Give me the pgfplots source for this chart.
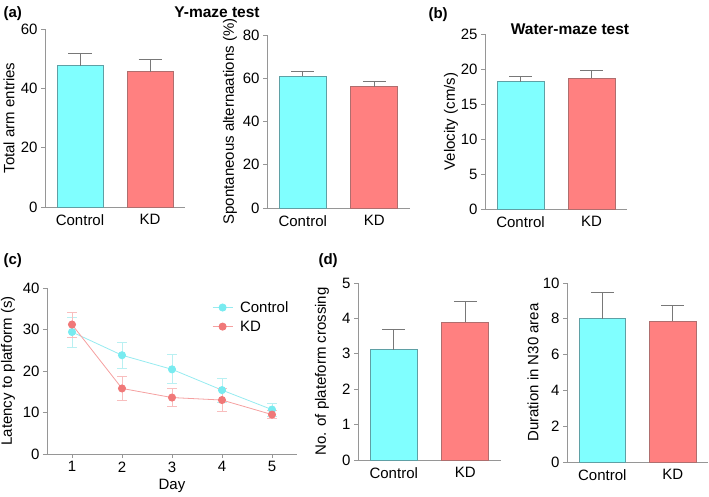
\documentclass[border=0pt]{standalone}
\usepackage{pgfplots}
\pgfplotsset{compat=1.18}
\usepackage{fontspec}
\setmainfont{Liberation Sans}
\definecolor{cbar}{RGB}{128,255,255}
\definecolor{cedge}{RGB}{95,160,165}
\definecolor{rbar}{RGB}{255,128,128}
\definecolor{redge}{RGB}{175,110,110}
\definecolor{axgray}{RGB}{150,150,150}
\definecolor{errgray}{RGB}{120,120,120}
\definecolor{cline}{RGB}{150,235,240}
\definecolor{rline}{RGB}{245,160,160}
\definecolor{cmark}{RGB}{120,235,240}
\definecolor{rmark}{RGB}{240,120,120}
\definecolor{cerr}{RGB}{185,240,242}
\definecolor{rerr}{RGB}{248,190,190}
\pgfplotsset{
  base/.style={scale only axis, axis x line*=bottom, axis y line*=left,
    axis line style={draw=axgray, line width=0.8pt, -},
    tick align=outside, major tick length=4pt,
    ytick style={draw=axgray, line width=0.8pt},
    tick label style={font=\fontsize{15}{17}\selectfont},
    label style={font=\fontsize{15}{17}\selectfont},
    /pgf/number format/assume math mode=true, ymin=0, clip=false},
  barax/.style={base, xmin=-0.5, xmax=1.5, xtick={0,1}, xticklabels={Control,KD},
    xtick style={draw=none},
    ylabel style={at={(axis description cs:#1,0.5)}, anchor=center}},
  berr/.style={/pgfplots/error bars/y dir=plus, /pgfplots/error bars/y explicit,
    /pgfplots/error bars/error bar style={draw=errgray, line width=0.8pt},
    /pgfplots/error bars/error mark options={rotate=90, draw=errgray, line width=0.8pt, mark size=11.5pt}},
  cb/.style={ybar, bar width=0.66, fill=cbar, draw=cedge, line width=0.8pt, berr},
  rb/.style={ybar, bar width=0.66, fill=rbar, draw=redge, line width=0.8pt, berr},
}
\begin{document}
\begin{tikzpicture}
\useasboundingbox (0,0) rectangle (709pt,496pt);
\node[font=\bfseries\fontsize{15}{17}\selectfont, anchor=west] at (0pt,482pt) {(a)};
\node[font=\bfseries\fontsize{15}{17}\selectfont, anchor=west] at (425pt,481pt) {(b)};
\node[font=\bfseries\fontsize{15}{17}\selectfont, anchor=west] at (0pt,235pt) {(c)};
\node[font=\bfseries\fontsize{15}{17}\selectfont, anchor=west] at (315pt,235pt) {(d)};
\node[font=\bfseries\fontsize{15.5}{17}\selectfont] at (217pt,484pt) {Y-maze test};
\node[font=\bfseries\fontsize{15.5}{17}\selectfont] at (570pt,467pt) {Water-maze test};

% (a) left
\begin{axis}[barax=-0.257, at={(45pt,289pt)}, anchor=south west, width=140pt, height=178pt,
  ymax=60, ytick={0,20,40,60}, ylabel={Total arm entries}]
\addplot[cb] coordinates {(0,47.6) +- (0,4.3)};
\addplot[rb] coordinates {(1,45.6) +- (0,4.2)};
\end{axis}
% (a) right
\begin{axis}[barax=-0.259, at={(267pt,288pt)}, anchor=south west, width=143pt, height=173pt,
  ymax=80, ytick={0,20,40,60,80}, ylabel={Spontaneous alternaations (\%)}]
\addplot[cb] coordinates {(0,60.9) +- (0,2.2)};
\addplot[rb] coordinates {(1,56.0) +- (0,2.6)};
\end{axis}
% (b)
\begin{axis}[barax=-0.239, at={(485pt,287pt)}, anchor=south west, width=142pt, height=175pt,
  ymax=25, ytick={0,5,10,15,20,25}, ylabel={Velocity (cm/s)}]
\addplot[cb] coordinates {(0,18.2) +- (0,0.8)};
\addplot[rb] coordinates {(1,18.65) +- (0,1.15)};
\end{axis}
% (c)
\begin{axis}[base, at={(47pt,42pt)}, anchor=south west, width=250pt, height=166pt,
  xmin=0.5, xmax=5.5, ymax=40, xtick={1,2,3,4,5}, ytick={0,10,20,30,40},
  xtick style={draw=axgray, line width=0.8pt},
  xlabel={Day}, ylabel={Latency to platform (s)},
  ylabel style={at={(axis description cs:-0.156,0.5)}, anchor=center},
  legend style={draw=none, fill=none, at={(axis cs:3.74,37.8)}, anchor=north west,
    font=\fontsize{15}{17}\selectfont, row sep=3pt, column sep=5pt},
  legend image code/.code={\draw[#1] (0pt,0pt) -- (20pt,0pt);
    \draw[#1, only marks] plot coordinates {(10pt,0pt)};},
  legend cell align=left]
\addplot[color=cline, line width=0.8pt, mark=*, mark size=3.6pt, mark options={fill=cmark, draw=cmark},
  error bars/.cd, y dir=both, y explicit,
  error bar style={draw=cerr, line width=0.8pt}, error mark options={rotate=90, draw=cerr, line width=0.8pt, mark size=5pt}]
  coordinates {(1,29.4) +- (0,3.6) (2,23.8) +- (0,3.1) (3,20.4) +- (0,3.5) (4,15.4) +- (0,2.85) (5,10.7) +- (0,1.6)};
\addlegendentry{Control}
\addplot[color=rline, line width=0.8pt, mark=*, mark size=3.6pt, mark options={fill=rmark, draw=rmark},
  error bars/.cd, y dir=both, y explicit,
  error bar style={draw=rerr, line width=0.8pt}, error mark options={rotate=90, draw=rerr, line width=0.8pt, mark size=5pt}]
  coordinates {(1,31.2) +- (0,3.0) (2,15.8) +- (0,2.8) (3,13.6) +- (0,2.1) (4,13.0) +- (0,2.8) (5,9.5) +- (0,0.95)};
\addlegendentry{KD}
\end{axis}
% (d) left
\begin{axis}[barax=-0.252, at={(358pt,36pt)}, anchor=south west, width=143pt, height=177pt,
  ymax=5, ytick={0,1,2,3,4,5}, ylabel={No. of plateform crossing}]
\addplot[cb] coordinates {(0,3.12) +- (0,0.58)};
\addplot[rb] coordinates {(1,3.89) +- (0,0.58)};
\end{axis}
% (d) right
\begin{axis}[barax=-0.241, at={(567pt,34pt)}, anchor=south west, width=141pt, height=179pt,
  ymax=10, ytick={0,2,4,6,8,10}, ylabel={Duration in N30 area}]
\addplot[cb] coordinates {(0,8.0) +- (0,1.46)};
\addplot[rb] coordinates {(1,7.87) +- (0,0.88)};
\end{axis}
\end{tikzpicture}
\end{document}
